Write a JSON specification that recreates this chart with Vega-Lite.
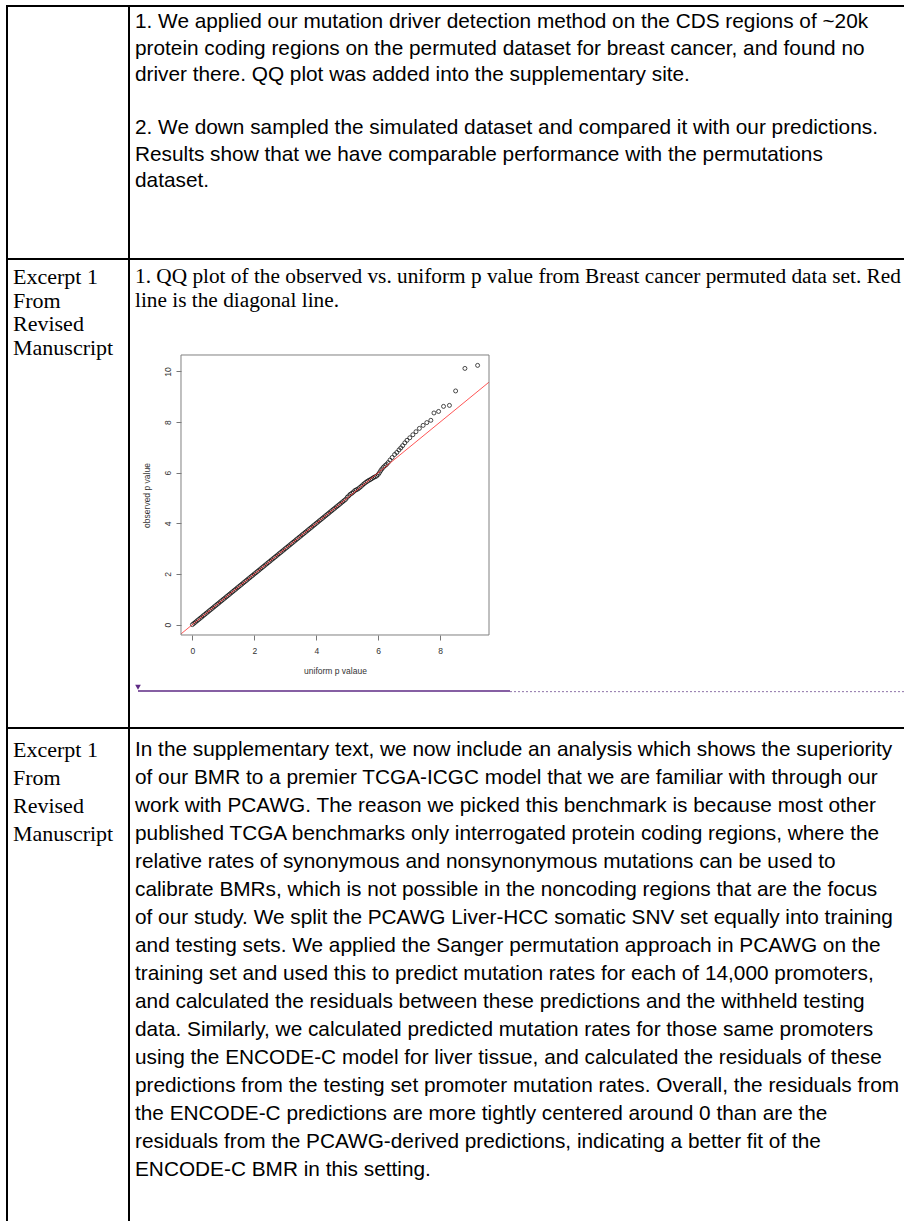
{
  "$schema": "https://vega.github.io/schema/vega-lite/v6.json",
  "background": "white",
  "padding": {"left": 6, "top": 5, "right": 0, "bottom": 0},
  "config": {
    "view": {"stroke": null},
    "text": {"font": "Liberation Sans", "color": "black"}
  },
  "datasets": {
    "r1": [
      {"ln": 0, "t": "1. We applied our mutation driver detection method on the CDS regions of ~20k"},
      {"ln": 1, "t": "protein coding regions on the permuted dataset for breast cancer, and found no"},
      {"ln": 2, "t": "driver there. QQ plot was added into the supplementary site."},
      {"ln": 4, "t": "2. We down sampled the simulated dataset and compared it with our predictions."},
      {"ln": 5, "t": "Results show that we have comparable performance with the permutations"},
      {"ln": 6, "t": "dataset."}
    ],
    "left": [
      {"ln": 0, "t": "Excerpt 1"},
      {"ln": 1, "t": "From"},
      {"ln": 2, "t": "Revised"},
      {"ln": 3, "t": "Manuscript"}
    ],
    "cap": [
      {"ln": 0, "t": "1. QQ plot of the observed vs. uniform p value from Breast cancer permuted data set. Red"},
      {"ln": 1, "t": "line is the diagonal line."}
    ],
    "r3": [
      {"ln": 0, "t": "In the supplementary text, we now include an analysis which shows the superiority"},
      {"ln": 1, "t": "of our BMR to a premier TCGA-ICGC model that we are familiar with through our"},
      {"ln": 2, "t": "work with PCAWG. The reason we picked this benchmark is because most other"},
      {"ln": 3, "t": "published TCGA benchmarks only interrogated protein coding regions, where the"},
      {"ln": 4, "t": "relative rates of synonymous and nonsynonymous mutations can be used to"},
      {"ln": 5, "t": "calibrate BMRs, which is not possible in the noncoding regions that are the focus"},
      {"ln": 6, "t": "of our study.  We split the PCAWG Liver-HCC somatic SNV set equally into training"},
      {"ln": 7, "t": "and testing sets. We applied the Sanger permutation approach in PCAWG on the"},
      {"ln": 8, "t": "training set and used this to predict mutation rates for each of 14,000 promoters,"},
      {"ln": 9, "t": "and calculated the residuals between these predictions and the withheld testing"},
      {"ln": 10, "t": "data. Similarly, we calculated predicted mutation rates for those same promoters"},
      {"ln": 11, "t": "using the ENCODE-C model for liver tissue, and calculated the residuals of these"},
      {"ln": 12, "t": "predictions from the testing set promoter mutation rates. Overall, the residuals from"},
      {"ln": 13, "t": "the ENCODE-C predictions are more tightly centered around 0 than are the"},
      {"ln": 14, "t": "residuals from the PCAWG-derived predictions, indicating a better fit of the"},
      {"ln": 15, "t": "ENCODE-C BMR in this setting."}
    ],
    "qq": [
      {"u":0,"o":0},{"u":0.05,"o":0.05},{"u":0.1,"o":0.1},{"u":0.15,"o":0.15},{"u":0.2,"o":0.2},
      {"u":0.25,"o":0.25},{"u":0.3,"o":0.3},{"u":0.35,"o":0.35},{"u":0.4,"o":0.4},{"u":0.45,"o":0.45},
      {"u":0.5,"o":0.5},{"u":0.55,"o":0.55},{"u":0.6,"o":0.6},{"u":0.65,"o":0.65},{"u":0.7,"o":0.7},
      {"u":0.75,"o":0.75},{"u":0.8,"o":0.8},{"u":0.85,"o":0.85},{"u":0.9,"o":0.9},{"u":0.95,"o":0.95},
      {"u":1,"o":1},{"u":1.05,"o":1.05},{"u":1.1,"o":1.1},{"u":1.15,"o":1.15},{"u":1.2,"o":1.2},
      {"u":1.25,"o":1.25},{"u":1.3,"o":1.3},{"u":1.35,"o":1.35},{"u":1.4,"o":1.4},{"u":1.45,"o":1.45},
      {"u":1.5,"o":1.5},{"u":1.55,"o":1.55},{"u":1.6,"o":1.6},{"u":1.65,"o":1.65},{"u":1.7,"o":1.7},
      {"u":1.75,"o":1.75},{"u":1.8,"o":1.8},{"u":1.85,"o":1.85},{"u":1.9,"o":1.9},{"u":1.95,"o":1.95},
      {"u":2,"o":2},{"u":2.05,"o":2.05},{"u":2.1,"o":2.1},{"u":2.15,"o":2.15},{"u":2.2,"o":2.2},
      {"u":2.25,"o":2.25},{"u":2.3,"o":2.3},{"u":2.35,"o":2.35},{"u":2.4,"o":2.4},{"u":2.45,"o":2.45},
      {"u":2.5,"o":2.5},{"u":2.55,"o":2.55},{"u":2.6,"o":2.6},{"u":2.65,"o":2.65},{"u":2.7,"o":2.7},
      {"u":2.75,"o":2.75},{"u":2.8,"o":2.8},{"u":2.85,"o":2.85},{"u":2.9,"o":2.9},{"u":2.95,"o":2.95},
      {"u":3,"o":3},{"u":3.05,"o":3.05},{"u":3.1,"o":3.1},{"u":3.15,"o":3.15},{"u":3.2,"o":3.2},
      {"u":3.25,"o":3.25},{"u":3.3,"o":3.3},{"u":3.35,"o":3.35},{"u":3.4,"o":3.4},{"u":3.45,"o":3.45},
      {"u":3.5,"o":3.5},{"u":3.55,"o":3.55},{"u":3.6,"o":3.6},{"u":3.65,"o":3.65},{"u":3.7,"o":3.7},
      {"u":3.75,"o":3.75},{"u":3.8,"o":3.8},{"u":3.85,"o":3.85},{"u":3.9,"o":3.9},{"u":3.95,"o":3.95},
      {"u":4,"o":4},{"u":4.05,"o":4.05},{"u":4.1,"o":4.1},{"u":4.15,"o":4.15},{"u":4.2,"o":4.2},
      {"u":4.25,"o":4.25},{"u":4.3,"o":4.3},{"u":4.35,"o":4.35},{"u":4.4,"o":4.4},{"u":4.45,"o":4.45},
      {"u":4.5,"o":4.5},{"u":4.55,"o":4.55},{"u":4.6,"o":4.6},{"u":4.65,"o":4.65},{"u":4.7,"o":4.7},
      {"u":4.75,"o":4.75},{"u":4.8,"o":4.8},{"u":4.85,"o":4.85},{"u":4.9,"o":4.9},{"u":4.95,"o":4.95},
      {"u":5,"o":5.03},{"u":5.05,"o":5.09},{"u":5.1,"o":5.15},{"u":5.15,"o":5.19},{"u":5.2,"o":5.24},
      {"u":5.25,"o":5.3},{"u":5.3,"o":5.33},{"u":5.35,"o":5.36},{"u":5.4,"o":5.41},{"u":5.45,"o":5.46},
      {"u":5.5,"o":5.52},{"u":5.55,"o":5.57},{"u":5.6,"o":5.62},{"u":5.65,"o":5.66},{"u":5.7,"o":5.7},
      {"u":5.75,"o":5.73},{"u":5.8,"o":5.77},{"u":5.85,"o":5.81},{"u":5.9,"o":5.84},{"u":5.95,"o":5.87},
      {"u":6,"o":5.93},{"u":6.04,"o":6.0},{"u":6.08,"o":6.08},{"u":6.12,"o":6.15},{"u":6.17,"o":6.22},
      {"u":6.22,"o":6.28},{"u":6.27,"o":6.33},{"u":6.32,"o":6.4},{"u":6.38,"o":6.5},{"u":6.45,"o":6.6},
      {"u":6.53,"o":6.72},{"u":6.6,"o":6.8},{"u":6.67,"o":6.9},{"u":6.73,"o":6.98},{"u":6.79,"o":7.07},
      {"u":6.86,"o":7.18},{"u":6.93,"o":7.28},{"u":7.02,"o":7.38},{"u":7.12,"o":7.5},{"u":7.22,"o":7.62},
      {"u":7.33,"o":7.75},{"u":7.45,"o":7.87},{"u":7.57,"o":7.98},{"u":7.7,"o":8.07},{"u":7.8,"o":8.36},
      {"u":7.95,"o":8.42},{"u":8.11,"o":8.62},{"u":8.3,"o":8.66},{"u":8.5,"o":9.23},{"u":8.8,"o":10.12},
      {"u":9.21,"o":10.24}
    ]
  },
  "columns": 2,
  "spacing": 0,
  "bounds": "flush",
  "concat": [
    {
      "width": 122, "height": 253,
      "view": {"stroke": "black", "strokeWidth": 2},
      "data": {"values": [{}]},
      "mark": {"type": "text"},
      "encoding": {"text": {"value": ""}}
    },
    {
      "width": 775, "height": 253,
      "view": {"stroke": "black", "strokeWidth": 2, "strokeDash": [775, 253, 1028]},
      "data": {"name": "r1"},
      "mark": {"type": "text", "align": "left", "baseline": "middle", "font": "Liberation Sans", "fontSize": 20.8, "color": "black", "clip": true},
      "encoding": {
        "x": {"value": 6},
        "y": {"field": "ln", "type": "quantitative", "scale": {"domain": [-0.604, 8.943], "range": [0, 253]}, "axis": null},
        "text": {"field": "t"}
      }
    },
    {
      "width": 122, "height": 469,
      "view": {"stroke": "black", "strokeWidth": 2},
      "data": {"name": "left"},
      "mark": {"type": "text", "align": "left", "baseline": "middle", "font": "Liberation Serif", "fontSize": 22, "color": "black"},
      "encoding": {
        "x": {"value": 6},
        "y": {"field": "ln", "type": "quantitative", "scale": {"domain": [-0.766, 19.191], "range": [0, 469]}, "axis": null},
        "text": {"field": "t"}
      }
    },
    {
      "width": 775, "height": 469,
      "resolve": {"scale": {"x": "independent", "y": "independent"}},
      "layer": [
        {
          "data": {"name": "cap"},
          "mark": {"type": "text", "align": "left", "baseline": "middle", "font": "Liberation Serif", "fontSize": 21.3, "color": "black", "clip": true},
          "encoding": {
            "x": {"value": 6},
            "y": {"field": "ln", "type": "quantitative", "scale": {"domain": [-0.766, 19.191], "range": [0, 469]}, "axis": null},
            "text": {"field": "t"}
          }
        },
        {
          "layer": [
            {
              "data": {"name": "qq"},
              "mark": {"type": "point", "filled": false, "shape": "circle", "size": 16, "stroke": "black", "strokeWidth": 0.7, "opacity": 1},
              "encoding": {
                "x": {"field": "u", "type": "quantitative", "scale": {"domain": [-2.047, 22.979], "nice": false, "zero": false},
                      "axis": {"orient": "bottom", "offset": -93, "values": [0, 2, 4, 6, 8], "domain": false, "grid": false, "tickSize": 5, "tickColor": "#777777", "tickWidth": 1,
                               "labelFont": "Liberation Sans", "labelFontSize": 8.5, "labelColor": "#333333", "labelPadding": 6,
                               "title": "uniform p valaue", "titleFont": "Liberation Sans", "titleFontSize": 8.5, "titleFontWeight": "normal", "titleColor": "#333333", "titlePadding": 12, "titleX": 206, "titleAnchor": "middle"}},
                "y": {"field": "o", "type": "quantitative", "scale": {"domain": [-4.084, 14.442], "nice": false, "zero": false},
                      "axis": {"orient": "left", "offset": -52, "values": [0, 2, 4, 6, 8, 10], "domain": false, "grid": false, "tickSize": 5, "tickColor": "#777777", "tickWidth": 1,
                               "labelFont": "Liberation Sans", "labelFontSize": 8.5, "labelColor": "#333333", "labelPadding": 4,
                               "labelAngle": -90, "labelAlign": "center", "labelBaseline": "bottom",
                               "title": "observed p value", "titleFont": "Liberation Sans", "titleFontSize": 8.5, "titleFontWeight": "normal", "titleColor": "#333333", "titlePadding": 12, "titleY": 236, "titleAnchor": "middle"}}
              }
            },
            {
              "data": {"values": [{}]},
              "mark": {"type": "rule", "color": "#ff2a2a", "strokeWidth": 0.8},
              "encoding": {
                "x": {"datum": -0.368}, "y": {"datum": -0.368},
                "x2": {"datum": 9.578}, "y2": {"datum": 9.578}
              }
            },
            {
              "data": {"values": [{}]},
              "mark": {"type": "rect", "fillOpacity": 0, "stroke": "#808080", "strokeWidth": 1},
              "encoding": {
                "x": {"datum": -0.368}, "x2": {"datum": 9.578},
                "y": {"datum": -0.41}, "y2": {"datum": 10.65}
              }
            }
          ]
        },
        {
          "layer": [
            {
              "data": {"values": [{}]},
              "mark": {"type": "rule", "color": "#5e2a84", "strokeWidth": 1.4},
              "encoding": {
                "x": {"datum": 0.0116, "scale": {"domain": [0, 1], "nice": false, "zero": false}, "axis": null},
                "x2": {"datum": 0.4916},
                "y": {"datum": 0.921, "scale": {"domain": [0, 1], "reverse": true, "nice": false, "zero": false}, "axis": null}
              }
            },
            {
              "data": {"values": [{}]},
              "mark": {"type": "rule", "color": "#8d72a8", "strokeWidth": 1, "strokeDash": [2, 2]},
              "encoding": {
                "x": {"datum": 0.4916}, "x2": {"datum": 1},
                "y": {"datum": 0.9225}
              }
            },
            {
              "data": {"values": [{}]},
              "mark": {"type": "point", "shape": "triangle-down", "filled": true, "size": 32, "color": "#5e2a84", "opacity": 1},
              "encoding": {
                "x": {"datum": 0.0116},
                "y": {"datum": 0.913}
              }
            }
          ]
        }
      ]
    },
    {
      "width": 122, "height": 493,
      "view": {"stroke": "black", "strokeWidth": 2, "strokeDash": [615, 122, 493]},
      "data": {"name": "left"},
      "mark": {"type": "text", "align": "left", "baseline": "middle", "font": "Liberation Serif", "fontSize": 22, "color": "black"},
      "encoding": {
        "x": {"value": 6},
        "y": {"field": "ln", "type": "quantitative", "scale": {"domain": [-0.786, 16.821], "range": [0, 493]}, "axis": null},
        "text": {"field": "t"}
      }
    },
    {
      "width": 775, "height": 493,
      "view": {"stroke": "black", "strokeWidth": 2, "strokeDash": [775, 1761]},
      "data": {"name": "r3"},
      "mark": {"type": "text", "align": "left", "baseline": "middle", "font": "Liberation Sans", "fontSize": 20.8, "color": "black", "clip": true},
      "encoding": {
        "x": {"value": 6},
        "y": {"field": "ln", "type": "quantitative", "scale": {"domain": [-0.786, 16.821], "range": [0, 493]}, "axis": null},
        "text": {"field": "t"}
      }
    }
  ]
}
